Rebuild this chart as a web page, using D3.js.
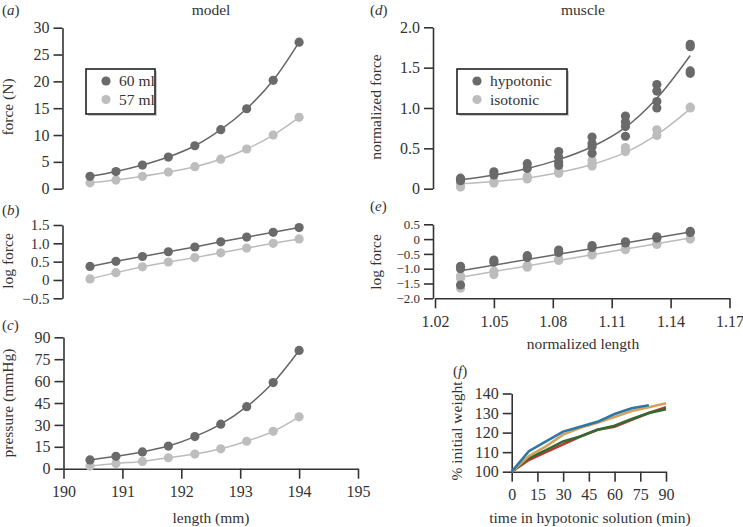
<!DOCTYPE html>
<html><head><meta charset="utf-8">
<script src="https://cdn.jsdelivr.net/npm/d3@7"></script>
<style>
body{margin:0;background:#fff;}
svg{display:block;font-family:"Liberation Serif","Times New Roman",serif;}
.axis path,.axis line{stroke:#333;stroke-width:1.6;}
.axis text{fill:#333;font-family:"Liberation Serif",serif;}
</style></head><body>
<svg id="c" width="743" height="527"></svg>
<script>
// ---------- data ----------
const lengthMM = [190.45,190.89,191.34,191.78,192.23,192.67,193.11,193.56,194.0];
const force60 = [2.3,3.2,4.4,5.9,8.0,11.0,14.9,20.2,27.3];
const force57 = [1.1,1.6,2.3,3.1,4.1,5.5,7.4,10.0,13.3];
const logForce60 = [0.37,0.51,0.64,0.77,0.90,1.04,1.17,1.30,1.43];
const logForce57 = [0.03,0.20,0.36,0.49,0.61,0.74,0.87,1.00,1.12];
const pressure60 = [6,8.5,11.5,15.5,22,30.5,42.5,59,81];
const pressure57 = [1.8,3.6,5,7.5,10,13.6,18.8,25.6,35.5];

const musLen = [1.033,1.05,1.067,1.083,1.1,1.117,1.133,1.15];
const hypoForce = [[0.13,0.10],[0.21,0.17],[0.31,0.25],[0.46,0.39,0.33,0.29],[0.64,0.56,0.52,0.44],[0.90,0.83,0.77,0.65],[1.29,1.21,1.08,1.00],[1.79,1.76,1.46,1.43]];
const isoForce = [[0.06,0.02],[0.09,0.07],[0.15,0.12],[0.23,0.19],[0.35,0.31,0.28],[0.51,0.46],[0.73,0.66],[1.01,1.00]];
const hypoFit = [0.11,0.17,0.25,0.36,0.52,0.76,1.12,1.65];
const isoFit = [0.06,0.09,0.13,0.20,0.30,0.45,0.67,0.99];
const logHypo = [[-0.92,-1.0,-1.55],[-0.71,-0.78],[-0.56,-0.62],[-0.37,-0.45],[-0.22,-0.28],[-0.09,-0.13],[0.08,0.03],[0.26,0.22]];
const logIso = [[-1.25,-1.32,-1.66],[-1.08,-1.2],[-0.88,-0.95],[-0.66,-0.72],[-0.5,-0.54],[-0.31,-0.36],[-0.14,-0.18],[0.02,0.0]];
const logFitLen = [1.033,1.15];
const logHypoFit = [-1.07,0.24];
const logIsoFit = [-1.29,0.04];

const timeMin = [0,10,20,30,40,50,60,70,80,90];
const wRed = [100,106,110,114,118,121.5,123,126.5,130,133];
const wGreen = [100,107,111,115.5,118,121.5,123.5,127,130,132];
const wOrange = [100,108,113,119,122.5,125,128,131,133,135];
const wBlue = [100,110.5,115.5,120.5,123,125.5,129.5,132.5,134];

const ticksA = [0,5,10,15,20,25,30];
const ticksB = [-0.5,0,0.5,1.0,1.5];
const ticksC = [0,15,30,45,60,75,90];
const ticksLen = [190,191,192,193,194,195];
const ticksD = [0,0.5,1.0,1.5,2.0];
const ticksE = [-2.0,-1.5,-1.0,-0.5,0,0.5];
const ticksNL = [1.02,1.05,1.08,1.11,1.14,1.17];
const ticksFy = [100,110,120,130,140];
const ticksFx = [0,15,30,45,60,75,90];

// ---------- drawing ----------
const svg = d3.select("#c");
const DARK = "#6a6a6a", LIGHT = "#bdbdbd", DLINE="#666", LLINE="#bbb";
const fmt1 = d => d===0 ? "0" : d3.format(".1f")(d);

const xL = d3.scaleLinear([190,195],[63.5,358]);
const ya = d3.scaleLinear([0,30],[188.7,27.7]);
const yb = d3.scaleLinear([-0.5,1.5],[298.3,225]);
const yc = d3.scaleLinear([0,90],[468.7,337.3]);
const xR = d3.scaleLinear([1.02,1.17],[435,729.5]);
const yd = d3.scaleLinear([0,2],[188.7,27.3]);
const ye = d3.scaleLinear([-2,0.5],[298.3,224.3]);
const xf = d3.scaleLinear([0,90],[511.7,666]);
const yf = d3.scaleLinear([100,140],[471.7,393.5]);

function yAxis(scale, x, ticks, f, fs){
  svg.append("g").attr("class","axis").attr("transform",`translate(${x},0)`)
    .call(d3.axisLeft(scale).tickValues(ticks).tickSize(9).tickSizeOuter(0).tickPadding(4).tickFormat(f||(d=>d)))
    .call(g=>g.selectAll("text").style("font-size",(fs||16)+"px"));
}
function xAxis(scale, y, ticks, f){
  svg.append("g").attr("class","axis").attr("transform",`translate(0,${y})`)
    .call(d3.axisBottom(scale).tickValues(ticks).tickSize(10).tickSizeOuter(0).tickPadding(7).tickFormat(f||(d=>d)))
    .call(g=>g.selectAll("text").style("font-size","16px"));
}
function label(x,y,t,rot,anchor){
  const el = svg.append("text").attr("font-size",15.5).attr("fill","#333")
    .attr("text-anchor",anchor||"middle").text(t);
  if(rot) el.attr("transform",`translate(${x},${y}) rotate(-90)`);
  else el.attr("x",x).attr("y",y);
}
function panelTag(x,y,l){
  const t = svg.append("text").attr("x",x).attr("y",y).attr("font-size",15).attr("fill","#333");
  t.append("tspan").text("(");
  t.append("tspan").attr("font-style","italic").text(l);
  t.append("tspan").text(")");
}
function curve(xs, ys, xS, yS, col, w, c){
  svg.append("path").datum(d3.zip(xs,ys)).attr("fill","none").attr("stroke",col).attr("stroke-width",w||1.5)
    .attr("d", d3.line().x(d=>xS(d[0])).y(d=>yS(d[1])).curve(c||d3.curveCatmullRom));
}
function dots(xs, ys, xS, yS, col){
  svg.append("g").selectAll("circle").data(d3.zip(xs,ys)).join("circle")
    .attr("cx",d=>xS(d[0])).attr("cy",d=>yS(d[1])).attr("r",4.6).attr("fill",col);
}
function multiDots(xs, groups, xS, yS, col){
  const pts = [];
  groups.forEach((g,i)=>g.forEach(v=>pts.push([xs[i],v])));
  svg.append("g").selectAll("circle").data(pts).join("circle")
    .attr("cx",d=>xS(d[0])).attr("cy",d=>yS(d[1])).attr("r",4.6).attr("fill",col);
}
function legend(x,y,w,h,names){
  svg.append("rect").attr("x",x+2).attr("y",y+2).attr("width",w).attr("height",h).attr("fill","#999").attr("opacity",0.5);
  svg.append("rect").attr("x",x).attr("y",y).attr("width",w).attr("height",h).attr("fill","#fff").attr("stroke","#222").attr("stroke-width",1.6);
  [DARK,LIGHT].forEach((c,i)=>{
    svg.append("circle").attr("cx",x+20).attr("cy",y+12+i*18.5).attr("r",4.6).attr("fill",c);
    svg.append("text").attr("x",x+33).attr("y",y+17+i*18.5).attr("font-size",15.5).attr("fill","#333").text(names[i]);
  });
}

// panel a
yAxis(ya, 62.5, ticksA);
curve(lengthMM, force57, xL, ya, LLINE);
curve(lengthMM, force60, xL, ya, DLINE);
dots(lengthMM, force57, xL, ya, LIGHT);
dots(lengthMM, force60, xL, ya, DARK);
legend(86,69,69,45,["60 ml","57 ml"]);
label(13,107,"force (N)",true);
label(211,15,"model");
panelTag(2,15,"a");

// panel b
yAxis(yb, 62.5, ticksB, fmt1, 15);
curve(lengthMM, logForce57, xL, yb, LLINE, 1.5, d3.curveLinear);
curve(lengthMM, logForce60, xL, yb, DLINE, 1.5, d3.curveLinear);
dots(lengthMM, logForce57, xL, yb, LIGHT);
dots(lengthMM, logForce60, xL, yb, DARK);
label(13,261,"log force",true);
panelTag(2,215,"b");

// panel c
yAxis(yc, 63.5, ticksC);
xAxis(xL, 468.7, ticksLen);
curve(lengthMM, pressure57, xL, yc, LLINE);
curve(lengthMM, pressure60, xL, yc, DLINE);
dots(lengthMM, pressure57, xL, yc, LIGHT);
dots(lengthMM, pressure60, xL, yc, DARK);
label(13,403,"pressure (mmHg)",true);
label(211,523,"length (mm)");
panelTag(2,330,"c");

// panel d
yAxis(yd, 433, ticksD, fmt1);
curve(musLen, isoFit, xR, yd, LLINE);
curve(musLen, hypoFit, xR, yd, DLINE);
multiDots(musLen, isoForce, xR, yd, LIGHT);
multiDots(musLen, hypoForce, xR, yd, DARK);
legend(457,69,110,45,["hypotonic","isotonic"]);
label(381,107,"normalized force",true);
label(583,15,"muscle");
panelTag(370,15,"d");

// panel e
yAxis(ye, 433, ticksE, fmt1, 13);
xAxis(xR, 298.3, ticksNL, d3.format(".2f"));
multiDots(musLen, logIso, xR, ye, LIGHT);
multiDots(musLen, logHypo, xR, ye, DARK);
curve(logFitLen, logIsoFit, xR, ye, LLINE, 1.5, d3.curveLinear);
curve(logFitLen, logHypoFit, xR, ye, DLINE, 1.5, d3.curveLinear);
label(381,262,"log force",true);
label(583,349,"normalized length");
panelTag(370,211,"e");

// panel f
yAxis(yf, 511.7, ticksFy);
xAxis(xf, 471.7, ticksFx);
curve(timeMin, wRed, xf, yf, "#c4332e", 2.6, d3.curveLinear);
curve(timeMin, wGreen, xf, yf, "#2f6b34", 2.6, d3.curveLinear);
curve(timeMin, wOrange, xf, yf, "#d6a25a", 2.6, d3.curveLinear);
curve(timeMin.slice(0,wBlue.length), wBlue, xf, yf, "#2b77a6", 2.6, d3.curveLinear);
label(462,431,"% initial weight",true);
label(590,523,"time in hypotonic solution (min)");
panelTag(453,376,"f");
</script>
</body></html>
